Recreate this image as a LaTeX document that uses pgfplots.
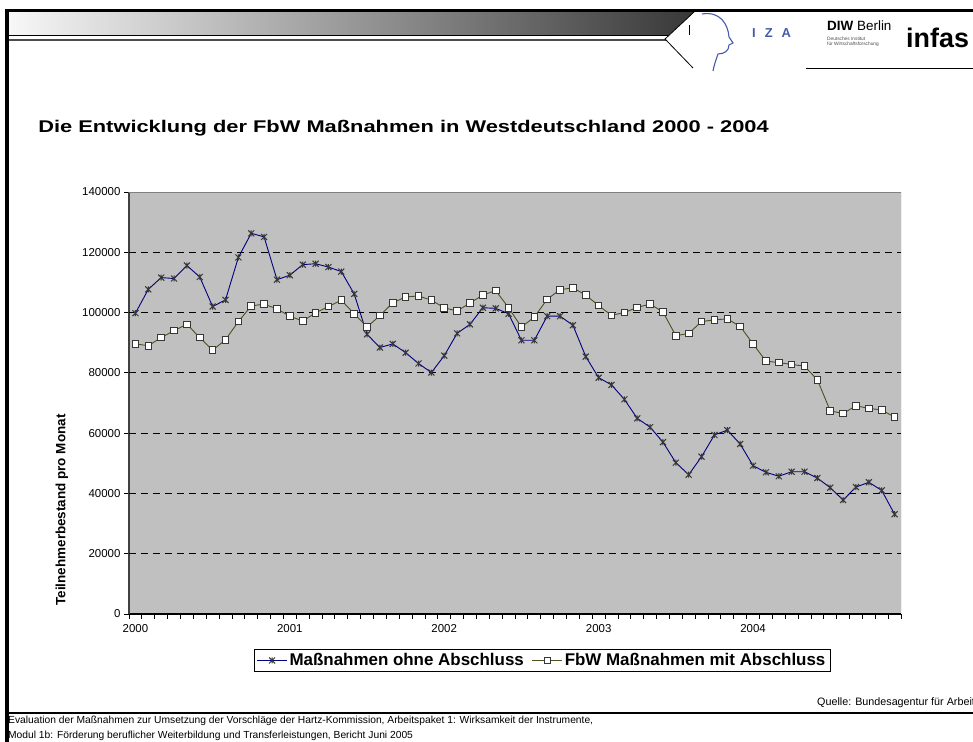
\documentclass[border=0pt]{standalone}
\usepackage{pgfplots}
\pgfplotsset{compat=1.18}
\usepackage{pgfplotstable}
\usepackage{fontspec}
\setmainfont{Liberation Sans}
\definecolor{plotbg}{RGB}{192,192,192}
\definecolor{navyline}{RGB}{0,0,128}
\definecolor{oliveline}{RGB}{80,80,30}
\definecolor{markgray}{RGB}{55,55,55}
\definecolor{izablue}{RGB}{70,90,170}
\pgfdeclareplotmark{excelstar}{%
  \pgfpathmoveto{\pgfqpoint{-\pgfplotmarksize}{-\pgfplotmarksize}}%
  \pgfpathlineto{\pgfqpoint{\pgfplotmarksize}{\pgfplotmarksize}}%
  \pgfpathmoveto{\pgfqpoint{-\pgfplotmarksize}{\pgfplotmarksize}}%
  \pgfpathlineto{\pgfqpoint{\pgfplotmarksize}{-\pgfplotmarksize}}%
  \pgfpathmoveto{\pgfqpoint{0pt}{-\pgfplotmarksize}}%
  \pgfpathlineto{\pgfqpoint{0pt}{\pgfplotmarksize}}%
  \pgfusepathqstroke}
\pgfplotstableread{
m ohne mit
0 99800 89600
1 107700 89000
2 111600 91700
3 111300 94000
4 115600 96100
5 111800 91700
6 102000 87500
7 104200 91000
8 118300 97000
9 126300 102200
10 125100 102800
11 110900 101200
12 112400 98800
13 115900 97200
14 116200 99900
15 115100 102000
16 113600 104100
17 106200 99600
18 92800 95200
19 88400 99000
20 89600 103200
21 86700 105200
22 83100 105500
23 80100 104100
24 85700 101600
25 93100 100500
26 96100 103200
27 101600 105800
28 101400 107300
29 99600 101600
30 90800 95200
31 90800 98500
32 98800 104400
33 98800 107600
34 95800 108200
35 85400 105800
36 78400 102300
37 76000 99100
38 71200 100000
39 64900 101700
40 62000 102800
41 57000 100200
42 50200 92300
43 46200 93100
44 52200 97000
45 59400 97600
46 61000 97900
47 56400 95400
48 49200 89600
49 47000 83900
50 45700 83400
51 47200 82800
52 47200 82200
53 45100 77700
54 41900 67400
55 37800 66500
56 42100 69100
57 43700 68200
58 41000 67700
59 33100 65300
}\datatab
\begin{document}
\begin{tikzpicture}[x=1bp,y=1bp]
\useasboundingbox (0,0) rectangle (973,742);
\coordinate (axisorigin) at (129,128);
% ---- slide decoration ----
\shade[left color=black!3, middle color=black!28, right color=black!78]
  (9,730) -- (694,730) -- (668,706) -- (9,706) -- cycle;
\fill[black] (5,0) rectangle (9,733);
\fill[black] (5,730) rectangle (973,733);
\draw[line width=1bp] (9,706) -- (668,706);
\draw[line width=1.3bp, black!70] (9,702) -- (666,702);
\draw[line width=0.8bp] (694,730) -- (665,703) -- (693,674);
\draw[line width=0.6bp] (689,717) -- (689,707);
\draw[line width=1bp] (806,673) -- (973,673);
% IZA head
\draw[izablue, line width=1.1bp] (702,728) .. controls (720,731) and (728,718) .. (729,705)
  -- (733,699) -- (729,697) .. controls (729,691) and (724,688) .. (718,688)
  .. controls (716,682) and (714,677) .. (713,671);
\node[anchor=base west, inner sep=0, text=izablue, font=\bfseries\fontsize{13}{13}\selectfont]
  at (752,704) {I\hspace{9bp}Z\hspace{9bp}A};
\node[anchor=base west, inner sep=0, font=\fontsize{13.5}{13.5}\selectfont]
  at (827,711) {\textbf{DIW} Berlin};
\node[anchor=base west, inner sep=0, font=\fontsize{4.8}{5.4}\selectfont, text=black!70, align=left]
  at (827,696) {Deutsches Institut\\für Wirtschaftsforschung};
\node[anchor=base west, inner sep=0, font=\bfseries\fontsize{27}{27}\selectfont]
  at (906,694) {infas};
% title
\node[anchor=base west, inner sep=0, xscale=1.29, font=\bfseries\fontsize{17}{20}\selectfont]
  at (38,609) {Die Entwicklung der FbW Maßnahmen in Westdeutschland 2000 - 2004};
% y label
\node[rotate=90, inner sep=0, font=\bfseries\fontsize{13.5}{16}\selectfont]
  at (62,232) {Teilnehmerbestand pro Monat};
% ---- chart ----
\begin{axis}[
  at={(axisorigin)}, anchor=south west,
  width=772bp, height=422bp, scale only axis,
  xmin=-0.5, xmax=59.5, ymin=0, ymax=140000,
  axis x line*=bottom, axis y line*=left,
  x axis line style={line width=1.2bp, black},
  y axis line style={line width=1.6bp, black!75},
  axis background/.style={fill=plotbg},
  tick align=outside,
  xtick={0,12,24,36,48},
  xticklabels={2000,2001,2002,2003,2004},
  minor xtick={-0.5,0.5,...,59.5},
  major x tick style={draw=none},
  minor tick length=5bp,
  scaled y ticks=false,
  ytick={0,20000,40000,60000,80000,100000,120000,140000},
  yticklabels={0,20000,40000,60000,80000,100000,120000,140000},
  extra y ticks={20000,40000,60000,80000,100000,120000},
  extra y tick style={major tick length=0pt, ymajorgrids=true, yticklabel={}},
  major grid style={black, line width=0.8bp, dash pattern=on 7bp off 5bp},
  major tick length=5bp,
  tick style={black, line width=0.8bp},
  ticklabel style={font=\fontsize{11.5}{13}\selectfont},
  xticklabel style={yshift=-2bp},
  legend columns=2,
  legend style={at={(0.535,-0.110)}, anchor=center, draw=black, line width=0.8bp,
    font=\bfseries\fontsize{17}{19}\selectfont, inner sep=2.5bp,
    /tikz/every even column/.append style={column sep=6bp}},
  legend image code/.code={\draw[mark repeat=2, mark phase=2]
    plot coordinates {(0bp,0bp) (15bp,0bp) (30bp,0bp)};},
]
\addplot[navyline, line width=0.9bp, mark=excelstar, mark size=3bp,
  mark options={draw=markgray, line width=1bp}] table[x=m, y=ohne] {\datatab};
\addlegendentry{Maßnahmen ohne Abschluss}
\addplot[oliveline, line width=0.9bp, mark=square*, mark size=3.3bp,
  mark options={draw=markgray, fill=white, line width=0.9bp}] table[x=m, y=mit] {\datatab};
\addlegendentry{FbW Maßnahmen mit Abschluss}
\draw[black!50, line width=0.8bp] (rel axis cs:0,1) -- (rel axis cs:1,1) -- (rel axis cs:1,0);
\end{axis}
% footer
\node[anchor=base west, inner sep=0, font=\fontsize{10.8}{12}\selectfont]
  at (817,36) {Quelle: Bundesagentur für Arbeit};
\fill[black] (5,28) rectangle (973,30);
\node[anchor=base west, inner sep=0, font=\fontsize{10.3}{12}\selectfont]
  at (8,18) {Evaluation der Maßnahmen zur Umsetzung der Vorschläge der Hartz-Kommission, Arbeitspaket 1: Wirksamkeit der Instrumente,};
\node[anchor=base west, inner sep=0, font=\fontsize{10.3}{12}\selectfont]
  at (8,3) {Modul 1b: Förderung beruflicher Weiterbildung und Transferleistungen, Bericht Juni 2005};
\end{tikzpicture}
\end{document}
